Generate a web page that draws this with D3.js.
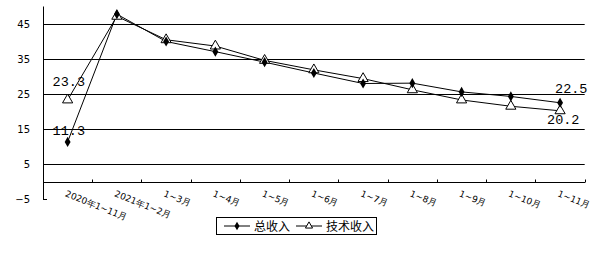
<!DOCTYPE html>
<html><head><meta charset="utf-8">
<script src="https://cdn.jsdelivr.net/npm/d3@7"></script>
<style>body{margin:0;background:#fff}svg{display:block}</style>
</head><body>
<script>
const categories = ["2020年1~11月","2021年1~2月","1~3月","1~4月","1~5月","1~6月","1~7月","1~8月","1~9月","1~10月","1~11月"];
const totalIncome = [11.3,47.8,40.0,37.1,34.1,31.0,28.0,28.1,25.6,24.3,22.5];
const techIncome  = [23.3,47.2,40.5,38.7,34.6,31.9,29.4,26.2,23.3,21.5,20.2];
const yTicks = [-5,5,15,25,35,45];
const seriesNames = ["总收入","技术收入"];

const W=611,H=253;
const svg=d3.select("body").append("svg").attr("width",W).attr("height",H);
const x=d3.scaleBand().domain(categories).range([43,584.7]).padding(0);
const y=d3.scaleLinear().domain([-5,50]).range([199,6.5]);
const cx=d=>x(d)+x.bandwidth()/2;

// gridlines
svg.append("g").selectAll("line").data(yTicks.filter(t=>t>-5)).join("line")
  .attr("x1",43).attr("x2",584.7).attr("y1",d=>Math.round(y(d))+0.5).attr("y2",d=>Math.round(y(d))+0.5)
  .attr("stroke","#000").attr("stroke-width",1);
// left axis
svg.append("line").attr("x1",43.5).attr("x2",43.5).attr("y1",y(50)).attr("y2",Math.round(y(-5))+0.5).attr("stroke","#000");
svg.append("g").selectAll("line").data(yTicks).join("line")
  .attr("x1",43).attr("x2",47).attr("y1",d=>Math.round(y(d))+0.5).attr("y2",d=>Math.round(y(d))+0.5).attr("stroke","#000");
svg.append("g").selectAll("text").data(yTicks).join("text")
  .attr("x",30).attr("y",d=>y(d)+3.5).attr("text-anchor","end")
  .attr("font-family","DejaVu Sans, sans-serif").attr("font-size",10).text(d=>d===-5?"−5":d);
// x axis at zero
const y0=Math.round(y(0))+0.5;
svg.append("line").attr("x1",43).attr("x2",585).attr("y1",y0).attr("y2",y0).attr("stroke","#000");
const bounds=categories.map(c=>x(c)).concat([x.range()[1]]).slice(1);
svg.append("g").selectAll("line").data(bounds).join("line")
  .attr("x1",d=>Math.round(d)+0.5).attr("x2",d=>Math.round(d)+0.5).attr("y1",y0).attr("y2",y0-3).attr("stroke","#000");
// x labels
svg.append("g").selectAll("text").data(categories).join("text")
  .attr("transform",d=>`translate(${cx(d)-3},${196}) rotate(22)`)
  .attr("font-family","DejaVu Sans, sans-serif").attr("font-size",9).attr("fill","#000")
  .text(d=>d);

// lines
const line=d3.line().x((d,i)=>cx(categories[i])).y(d=>y(d));
svg.append("path").attr("d",line(totalIncome)).attr("fill","none").attr("stroke","#000").attr("stroke-width",1);
svg.append("path").attr("d",line(techIncome)).attr("fill","none").attr("stroke","#000").attr("stroke-width",1);
const diamond=d3.symbol().type(d3.symbolDiamond).size(30);
const tri=d3.symbol().type(d3.symbolTriangle).size(45);
svg.append("g").selectAll("path").data(techIncome).join("path")
  .attr("transform",(d,i)=>`translate(${cx(categories[i])},${y(d)})`).attr("d",tri)
  .attr("fill","#fff").attr("stroke","#000").attr("stroke-width",1);
svg.append("g").selectAll("path").data(totalIncome).join("path")
  .attr("transform",(d,i)=>`translate(${cx(categories[i])},${y(d)})`).attr("d",diamond)
  .attr("fill","#000");

// data labels
const lf="Liberation Mono, DejaVu Sans Mono, monospace";
const n=categories.length-1;
const labels=[
  {v:techIncome[0],x:cx(categories[0])-15,y:y(techIncome[0])-14},
  {v:totalIncome[0],x:cx(categories[0])-15,y:y(totalIncome[0])-7},
  {v:totalIncome[n],x:cx(categories[n])-5,y:y(totalIncome[n])-10},
  {v:techIncome[n],x:cx(categories[n])-13,y:y(techIncome[n])+13}
];
svg.append("g").selectAll("text").data(labels).join("text")
  .attr("x",d=>d.x).attr("y",d=>d.y).attr("font-family",lf).attr("font-size",13.5)
  .text(d=>d.v.toFixed(1));

// legend
const lg=svg.append("g");
lg.append("rect").attr("x",216.5).attr("y",217.5).attr("width",160).attr("height",17).attr("fill","#fff").attr("stroke","#000");
const ly=226;
lg.append("line").attr("x1",224).attr("x2",250).attr("y1",ly).attr("y2",ly).attr("stroke","#000");
lg.append("path").attr("transform",`translate(237,${ly})`).attr("d",d3.symbol().type(d3.symbolDiamond).size(22)).attr("fill","#000");
lg.append("text").attr("x",254).attr("y",ly+4.5).attr("font-family","Noto Sans CJK SC").attr("font-size",12).text(seriesNames[0]);
lg.append("line").attr("x1",296).attr("x2",322).attr("y1",ly).attr("y2",ly).attr("stroke","#000");
lg.append("path").attr("transform",`translate(309,${ly})`).attr("d",d3.symbol().type(d3.symbolTriangle).size(22)).attr("fill","#fff").attr("stroke","#000");
lg.append("text").attr("x",326).attr("y",ly+4.5).attr("font-family","Noto Sans CJK SC").attr("font-size",12).text(seriesNames[1]);
</script>
</body></html>
